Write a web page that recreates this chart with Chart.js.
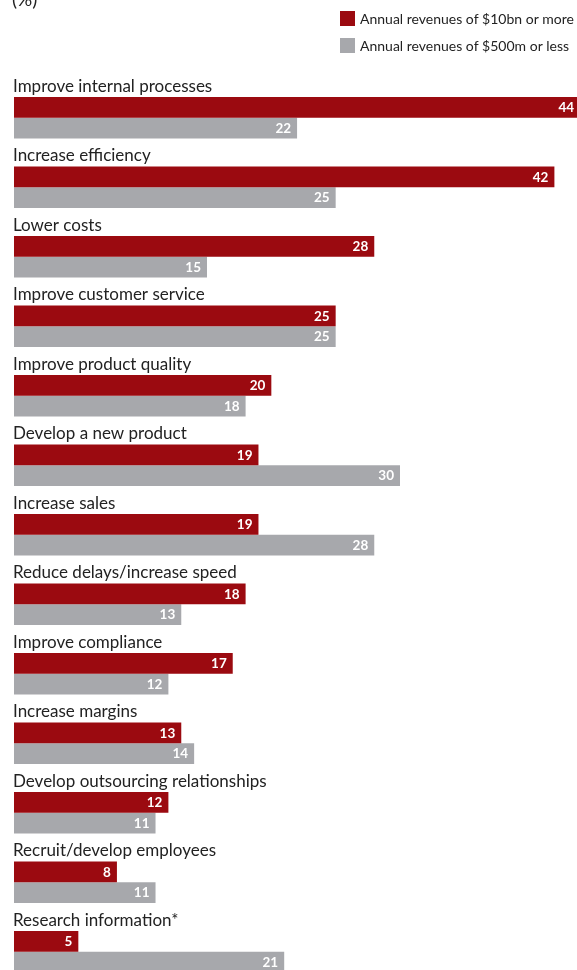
<!DOCTYPE html>
<html>
<head>
<meta charset="utf-8">
<script src="https://cdn.jsdelivr.net/npm/chart.js@4.4.1/dist/chart.umd.min.js"></script>
<style>
  html, body { margin: 0; padding: 0; background: #ffffff; overflow: hidden; }
  #wrap { position: relative; width: 593px; height: 990px; }
  canvas { display: block; }
</style>
</head>
<body>
<div id="wrap"><canvas id="chart" width="593" height="990"></canvas></div>
<script>
const categories = [
  "Improve internal processes",
  "Increase efficiency",
  "Lower costs",
  "Improve customer service",
  "Improve product quality",
  "Develop a new product",
  "Increase sales",
  "Reduce delays/increase speed",
  "Improve compliance",
  "Increase margins",
  "Develop outsourcing relationships",
  "Recruit/develop employees",
  "Research information*"
];
const largeFirms = [44, 42, 28, 25, 20, 19, 19, 18, 17, 13, 12, 8, 5];
const smallFirms = [22, 25, 15, 25, 18, 30, 28, 13, 12, 14, 11, 11, 21];
const seriesNames = ["Annual revenues of $10bn or more", "Annual revenues of $500m or less"];
const unitLabel = "(%)";

const RED = "#9b0a10";
const GREY = "#a7a8ac";
const TEXT = "#222222";
const LABEL_FONT = "17px Lato, 'Open Sans', sans-serif";
const LEGEND_FONT = "14px Lato, 'Open Sans', sans-serif";
const VALUE_FONT = "bold 13.5px Lato, 'Open Sans', sans-serif";
const UNIT_FONT = "19px Lato, 'Open Sans', sans-serif";

// Category names above each pair, value labels inside bar ends, legend and unit
const annotations = {
  id: "annotations",
  afterDatasetsDraw(chart) {
    const ctx = chart.ctx;
    const y = chart.scales.y;
    ctx.save();

    // category names
    ctx.font = LABEL_FONT;
    ctx.fillStyle = TEXT;
    ctx.textAlign = "left";
    ctx.textBaseline = "alphabetic";
    categories.forEach((c, i) => {
      ctx.fillText(c, chart.chartArea.left - 1, y.getPixelForValue(i) - 26);
    });

    // values inside bars
    ctx.font = VALUE_FONT;
    ctx.fillStyle = "#ffffff";
    ctx.textAlign = "right";
    ctx.textBaseline = "middle";
    chart.data.datasets.forEach((ds, di) => {
      const meta = chart.getDatasetMeta(di);
      meta.data.forEach((el, i) => {
        ctx.fillText(String(ds.data[i]), el.x - 6, el.y + 0.5);
      });
    });

    // legend
    ctx.font = LEGEND_FONT;
    ctx.textAlign = "left";
    ctx.textBaseline = "middle";
    const legendRows = [18.5, 45.5];
    chart.data.datasets.forEach((ds, di) => {
      const cy = legendRows[di];
      ctx.fillStyle = ds.backgroundColor;
      ctx.fillRect(340, cy - 7.5, 15, 15);
      ctx.fillStyle = TEXT;
      ctx.fillText(ds.label, 360, cy + 0.5);
    });

    // unit
    ctx.font = UNIT_FONT;
    ctx.textBaseline = "alphabetic";
    ctx.fillStyle = TEXT;
    ctx.fillText(unitLabel, 12, 6);

    ctx.restore();
  }
};

new Chart(document.getElementById("chart"), {
  type: "bar",
  data: {
    labels: categories,
    datasets: [
      { label: seriesNames[0], data: largeFirms, backgroundColor: RED },
      { label: seriesNames[1], data: smallFirms, backgroundColor: GREY }
    ]
  },
  options: {
    indexAxis: "y",
    responsive: false,
    animation: false,
    devicePixelRatio: 1,
    datasets: {
      bar: { categoryPercentage: 0.596, barPercentage: 1, borderWidth: 0 }
    },
    layout: { padding: { left: 14, right: 0, top: 83, bottom: 3.5 } },
    scales: {
      x: { display: false, min: 0, max: 45 },
      y: { display: false, offset: true, grid: { display: false } }
    },
    plugins: {
      legend: { display: false },
      tooltip: { enabled: false },
      title: { display: false }
    }
  },
  plugins: [annotations]
});
</script>
</body>
</html>
